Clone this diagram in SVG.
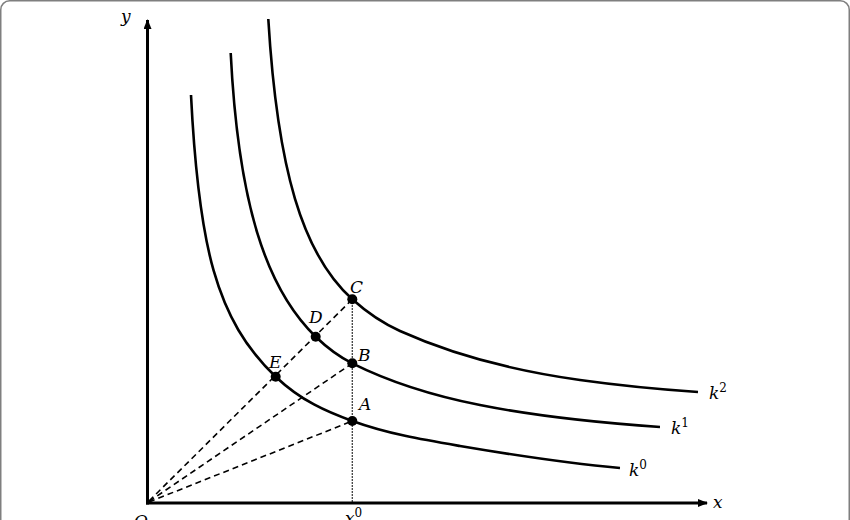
<svg xmlns="http://www.w3.org/2000/svg" width="850" height="520" viewBox="0 0 850 520">
<defs>
<style>
.curve{fill:none;stroke:#000;stroke-width:2.6;stroke-linecap:butt}
.axis{fill:none;stroke:#000;stroke-width:3}
.dash{fill:none;stroke:#000;stroke-width:1.6;stroke-dasharray:6 4}
.dot{fill:none;stroke:#000;stroke-width:1.3;stroke-dasharray:1.5 1.5}
.pt{fill:#000}
.lbl{font-family:"DejaVu Serif","Liberation Serif",serif;font-style:italic;font-size:17px;fill:#000}
.sup{font-style:normal;font-size:12px}
</style>
<marker id="arr" viewBox="0 0 10 8" refX="9" refY="4" markerWidth="10" markerHeight="8" markerUnits="userSpaceOnUse" orient="auto">
<path d="M0,0 L10,4 L0,8 Z" fill="#000"/>
</marker>
</defs>
<rect x="0.75" y="0.75" width="848.5" height="560" rx="9" fill="#fff" stroke="#7f7f7f" stroke-width="1.5"/>
<g id="axes">
<line class="axis" x1="147.5" y1="504.5" x2="147.5" y2="20" marker-end="url(#arr)"/>
<line class="axis" x1="146" y1="503" x2="707" y2="503" marker-end="url(#arr)"/>
<text class="lbl" x="121" y="22">y</text>
<text class="lbl" x="713" y="508">x</text>
<text class="lbl" x="134" y="527">O</text>
<text class="lbl" x="345" y="524">x<tspan class="sup" dy="-7">0</tspan></text>
</g>
<g id="connectors">
<line class="dash" x1="149" y1="501" x2="352.3" y2="299.3"/>
<line class="dash" x1="149" y1="501.5" x2="352.3" y2="363.3"/>
<line class="dash" x1="149" y1="502" x2="352.3" y2="421"/>
<line class="dot" x1="352.3" y1="299.3" x2="352.3" y2="503"/>
</g>
<g id="k0">
<path class="curve" d="M191,95 C198.5,245 215.7,319.7 275.7,376.7 C301.2,400.9 326.8,411.8 352.3,421 C388.3,434 424,439.9 460,446 C513,455 567,463.2 620,468"/>
<text class="lbl" x="629" y="476">k<tspan class="sup" dy="-7">0</tspan></text>
</g>
<g id="k1">
<path class="curve" d="M230.7,53 C238.2,203 265.7,288.2 315.7,336.7 C327.9,348.5 340.1,357.2 352.3,363.3 C394.9,384.6 437.4,396.5 480,405 C540,417 600,422.8 660,427"/>
<text class="lbl" x="671" y="434">k<tspan class="sup" dy="-7">1</tspan></text>
</g>
<g id="k2">
<path class="curve" d="M268.3,19 C277.3,169 302.3,254.3 352.3,299.3 C368.3,313.7 384,323.8 400,331 C460,358 520,371.6 580,380 C619,385.5 659,389.3 698,392"/>
<text class="lbl" x="709" y="399">k<tspan class="sup" dy="-7">2</tspan></text>
</g>
<g id="A"><circle class="pt" cx="352.3" cy="421" r="5"/><text class="lbl" x="359" y="410">A</text></g>
<g id="B"><circle class="pt" cx="352.3" cy="363.3" r="5"/><text class="lbl" x="358" y="361">B</text></g>
<g id="C"><circle class="pt" cx="352.3" cy="299.3" r="5"/><text class="lbl" x="350" y="293">C</text></g>
<g id="D"><circle class="pt" cx="315.7" cy="336.7" r="5"/><text class="lbl" x="309" y="323">D</text></g>
<g id="E"><circle class="pt" cx="275.7" cy="376.7" r="5"/><text class="lbl" x="269" y="368">E</text></g>
</svg>
